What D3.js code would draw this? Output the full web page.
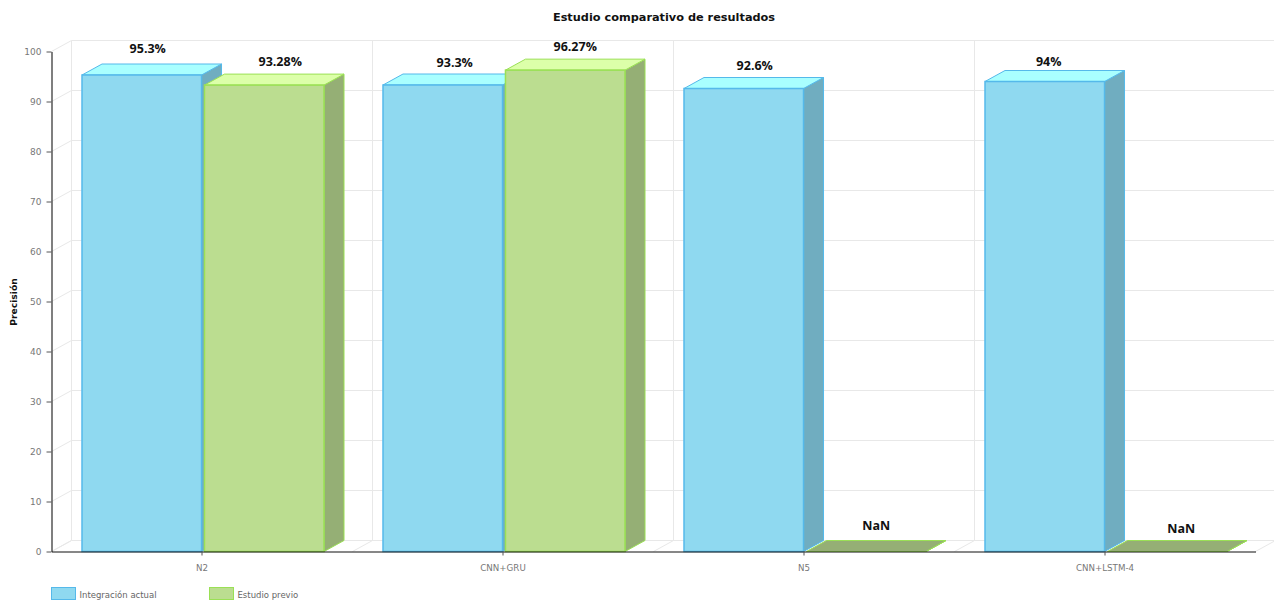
<!DOCTYPE html>
<html>
<head>
<meta charset="utf-8">
<title>Estudio comparativo de resultados</title>
<script src="https://cdn.jsdelivr.net/npm/d3@7"></script>
<style>
  html, body { margin: 0; background: #fff; overflow: hidden; }
  svg { display: block; }
</style>
</head>
<body>
<div id="chart"></div>
<script>
// Data
const categories = ["N2", "CNN+GRU", "N5", "CNN+LSTM-4"];
const seriesNames = ["Integración actual", "Estudio previo"];
const integracionActual = [95.3, 93.3, 92.6, 94];
const estudioPrevio = [93.28, 96.27, NaN, NaN];
const yTicks = [0, 10, 20, 30, 40, 50, 60, 70, 80, 90, 100];

// Label nudges from the centre of each bar's front face, [dx, dy from top]
const labelNudge = [
  [[6, -26], [16, -23]],
  [[12, -22], [10, -24]],
  [[11, -23], [10, -26]],
  [[4, -20], [14, -23]]
];

const colors = [
  { front: "#8fd9f0", stroke: "#55b9ea", top: "#a9ffff", side: "#70adc0" },
  { front: "#bbdd90", stroke: "#9ae055", top: "#dcffa9", side: "#95af75" }
];

const width = 1274;
const height = 600;
const marginTop = 51.5;
const marginBottom = 48.5;
const marginLeft = 51.5;
const marginRight = 18.5;
const depthX = 20;
const depthY = 11;

const x = d3.scaleBand()
    .domain(categories)
    .range([marginLeft, width - marginRight]);

const xSeries = d3.scaleBand()
    .domain(seriesNames)
    .range([30.5, 272.5])
    .paddingInner(0.024);

const y = d3.scaleLinear()
    .domain([0, 100])
    .range([height - marginBottom, marginTop]);

const svg = d3.select("#chart")
  .append("svg")
    .attr("width", width)
    .attr("height", height)
    .attr("viewBox", [0, 0, width, height]);

// Back wall and floor grid
const grid = svg.append("g")
    .attr("fill", "none")
    .attr("stroke", "#e8e8e8")
    .attr("stroke-width", 1);

grid.selectAll(".hline")
  .data(yTicks)
  .join("path")
    .attr("d", (d) => `M${marginLeft},${y(d)}L${marginLeft + depthX},${y(d) - depthY}H${width - marginRight + depthX}`);

const walls = x.domain().map((d) => x(d)).concat([width - marginRight]);
grid.selectAll(".vline")
  .data(walls)
  .join("path")
    .attr("d", (d) => `M${d},${y(0)}L${d + depthX},${y(0) - depthY}V${y(100) - depthY}`);

// One box per category and series; a missing value draws as a flat plate
function drawBox(g, x0, x1, yTop, c) {
  const base = y(0);
  g.append("path")
      .attr("d", `M${x1},${yTop}L${x1 + depthX},${yTop - depthY}V${base - depthY}L${x1},${base}Z`)
      .attr("fill", c.side)
      .attr("stroke", c.stroke);
  g.append("path")
      .attr("d", `M${x0},${yTop}L${x0 + depthX},${yTop - depthY}H${x1 + depthX}L${x1},${yTop}Z`)
      .attr("fill", yTop === base ? c.side : c.top)
      .attr("stroke", c.stroke);
  g.append("rect")
      .attr("x", x0)
      .attr("y", yTop)
      .attr("width", x1 - x0)
      .attr("height", base - yTop)
      .attr("fill", c.front)
      .attr("stroke", c.stroke)
      .attr("stroke-width", 1.5);
}

const bars = svg.append("g");
categories.forEach((cat, i) => {
  [integracionActual, estudioPrevio].forEach((values, s) => {
    const x0 = x(cat) + xSeries(seriesNames[s]);
    const x1 = x0 + xSeries.bandwidth();
    const v = values[i];
    drawBox(bars, x0, x1, y(isNaN(v) ? 0 : v), colors[s]);
  });
});

// Axes
const yAxis = svg.append("g")
    .attr("transform", `translate(${marginLeft},0)`)
    .call(d3.axisLeft(y).tickValues(yTicks).tickSize(5).tickPadding(5).tickSizeOuter(0));
yAxis.select(".domain").attr("stroke", "#555").attr("stroke-width", 1.5);
yAxis.selectAll(".tick line").attr("stroke", "#555");
yAxis.selectAll("text")
    .attr("fill", "#777")
    .style("font", "9px 'DejaVu Sans', sans-serif");

const xAxis = svg.append("g")
    .attr("transform", `translate(0,${y(0)})`)
    .call(d3.axisBottom(x).tickSize(4).tickPadding(9).tickSizeOuter(0));
xAxis.select(".domain").attr("stroke", "#111").attr("stroke-width", 1.2);
xAxis.selectAll(".tick line").attr("stroke", "#555");
xAxis.selectAll("text")
    .attr("fill", "#777")
    .style("font", "8.7px 'DejaVu Sans', sans-serif");

// Value labels
const labels = svg.append("g")
    .attr("text-anchor", "middle")
    .attr("fill", "#111")
    .style("font", "bold 12.5px 'Open Sans', sans-serif");

categories.forEach((cat, i) => {
  [integracionActual, estudioPrevio].forEach((values, s) => {
    const v = values[i];
    const [dx, dy] = labelNudge[i][s];
    labels.append("text")
        .attr("x", x(cat) + xSeries(seriesNames[s]) + xSeries.bandwidth() / 2 + dx)
        .attr("y", y(isNaN(v) ? 0 : v) + dy)
        .attr("dy", "0.35em")
        .text(isNaN(v) ? "NaN" : `${v}%`);
  });
});

// Title and y-axis label
svg.append("text")
    .attr("x", 664)
    .attr("y", 21)
    .attr("text-anchor", "middle")
    .attr("fill", "#111")
    .style("font", "bold 11.3px 'DejaVu Sans', sans-serif")
    .text("Estudio comparativo de resultados");

svg.append("text")
    .attr("transform", "translate(17,302) rotate(-90)")
    .attr("text-anchor", "middle")
    .attr("fill", "#111")
    .style("font", "bold 9.2px 'DejaVu Sans', sans-serif")
    .text("Precisión");

// Legend
const legendStep = 158;
const legend = svg.append("g")
    .selectAll("g")
    .data(seriesNames)
    .join("g")
    .attr("transform", (d, i) => `translate(${51.5 + i * legendStep},587.5)`);

legend.append("rect")
    .attr("width", 24)
    .attr("height", 12)
    .attr("fill", (d, i) => colors[i].front)
    .attr("stroke", (d, i) => colors[i].stroke);

legend.append("text")
    .attr("x", 28)
    .attr("y", 10)
    .attr("fill", "#666")
    .style("font", "8.5px 'DejaVu Sans', sans-serif")
    .text((d) => d);
</script>
</body>
</html>
